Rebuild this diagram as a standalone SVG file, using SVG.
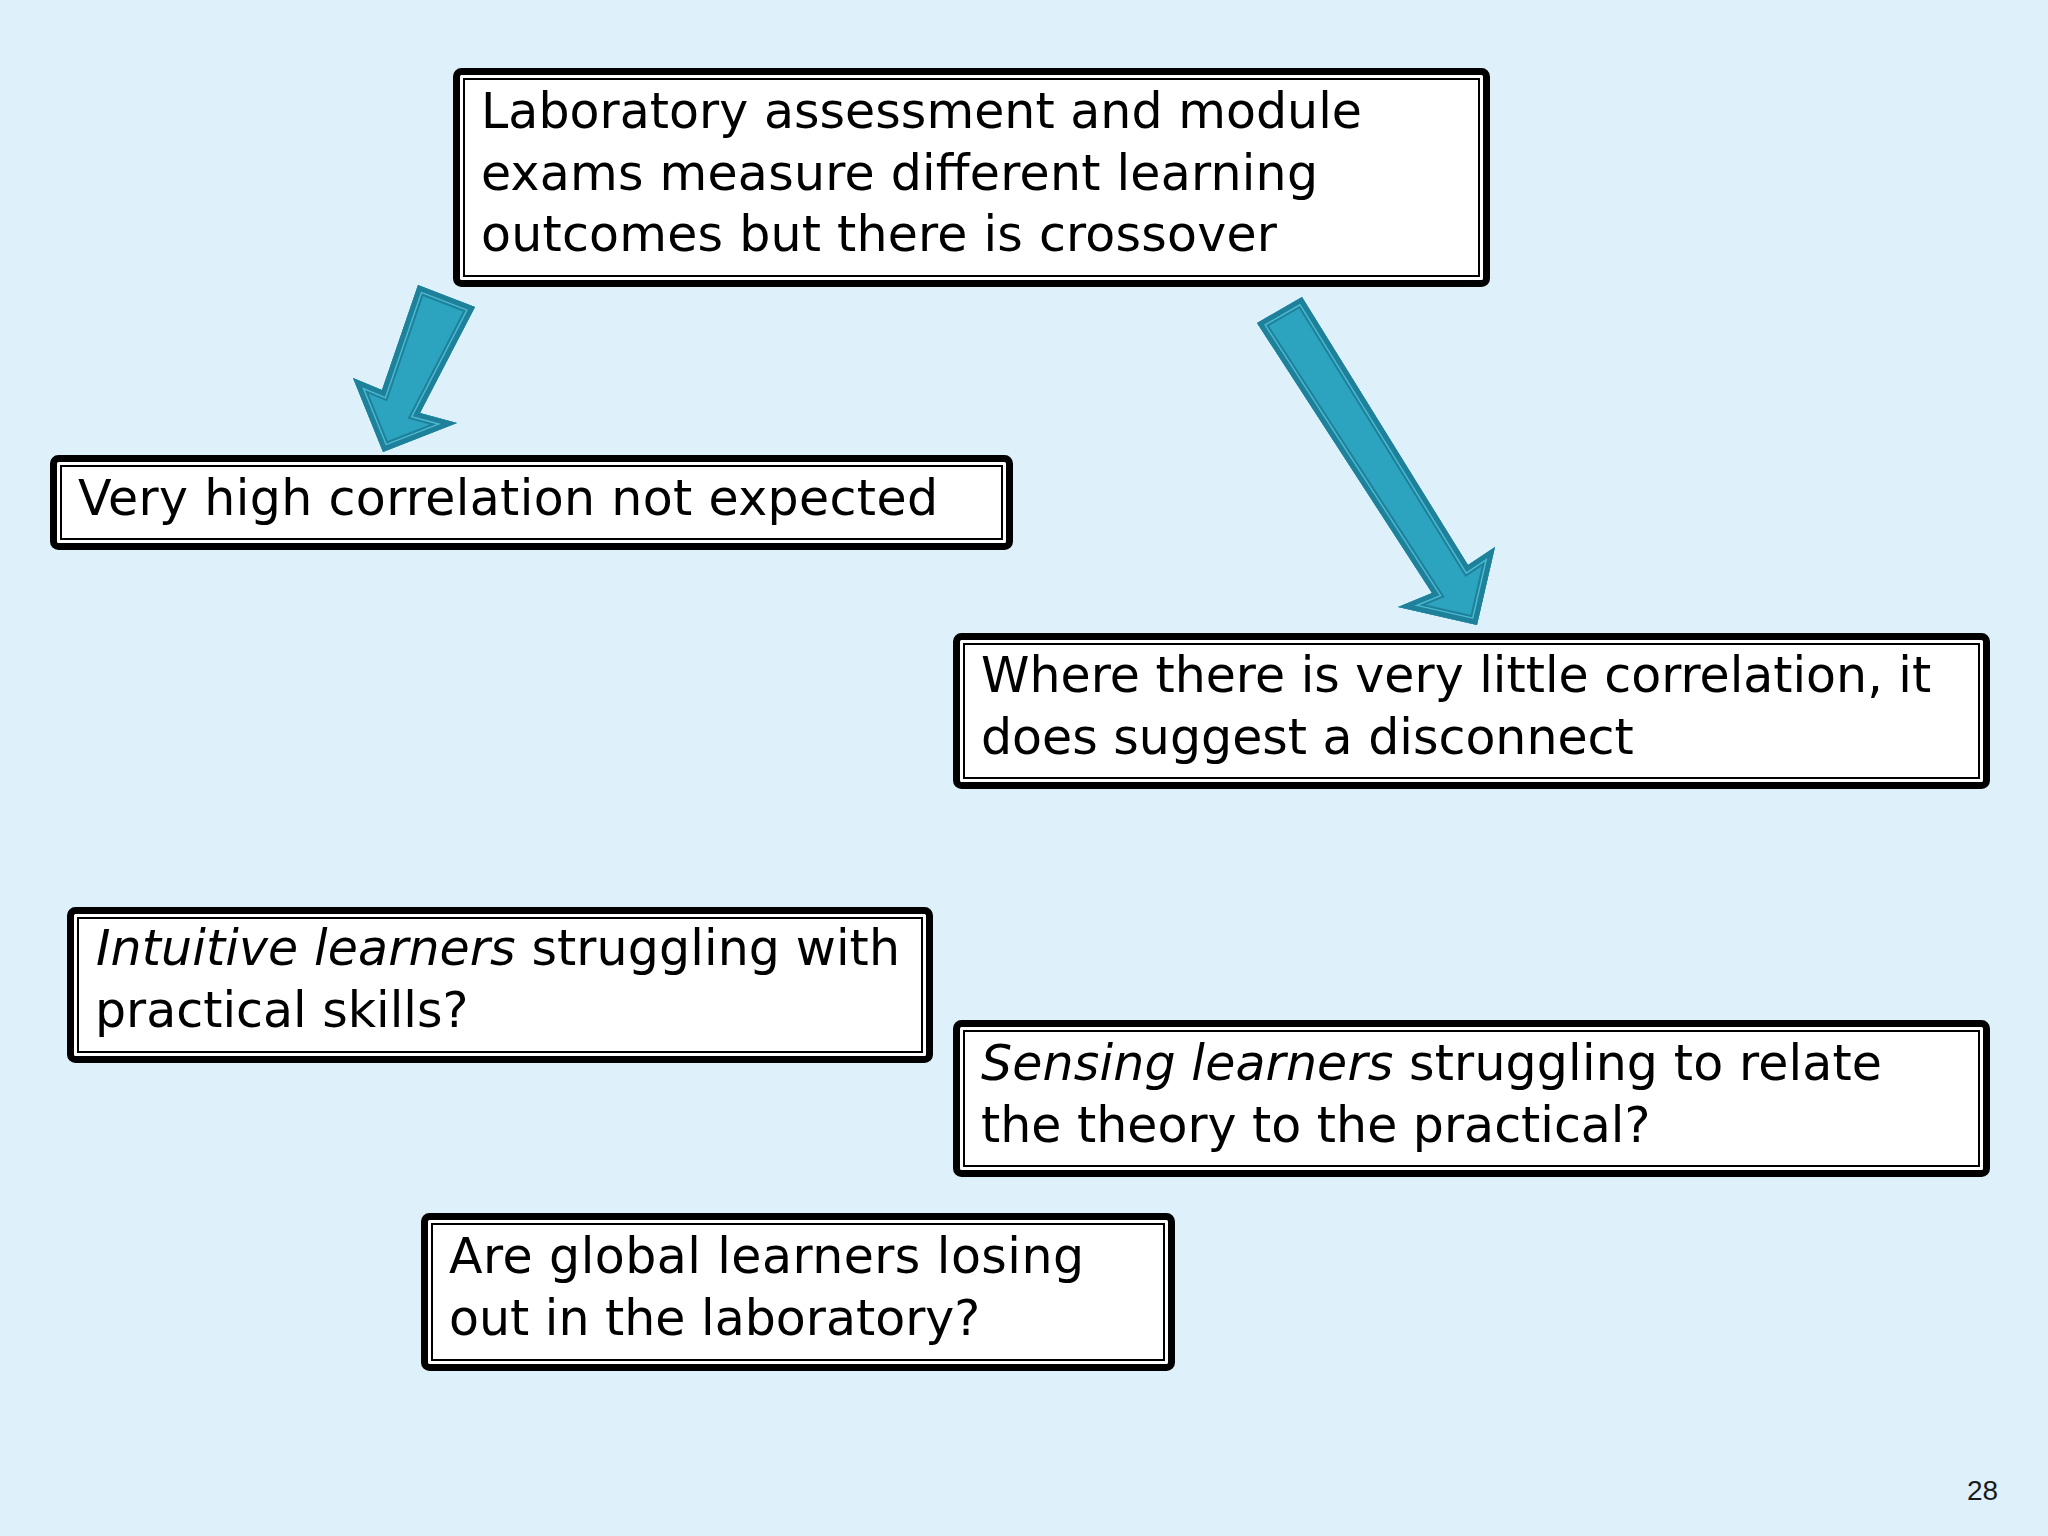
<svg xmlns="http://www.w3.org/2000/svg" width="2048" height="1536" viewBox="0 0 2048 1536">
<style>
.outer{fill:#ffffff;stroke:#000000;stroke-width:7}
.inner{fill:none;stroke:#000000;stroke-width:2}
.t{font-family:"DejaVu Sans","Liberation Sans",sans-serif;font-size:49px;fill:#000000}
.i{font-style:italic}
.pg{font-family:"Liberation Sans",Arial,sans-serif;font-size:28px;fill:#1a1a1a}
.af{fill:#2ca3bf}
.a1{fill:none;stroke:#1e8099;stroke-width:17}
.a2{fill:none;stroke:#49b8d2;stroke-width:13}
.a3{fill:none;stroke:#1e8099;stroke-width:10}
</style>
<defs>
<polygon id="arrL" points="418,285 475,307 420,413 457,423 383,452 353,378 382,390"/>
<polygon id="arrR" points="1257,323 1302,297 1468,565 1495,547 1477,625 1398,607 1432,593"/>
<clipPath id="cL"><use href="#arrL"/></clipPath>
<clipPath id="cR"><use href="#arrR"/></clipPath>
</defs>
<rect width="2048" height="1536" fill="#def1fa"/>
<g id="connectors">
<g id="arrow-left" clip-path="url(#cL)">
<use href="#arrL" class="af"/>
<use href="#arrL" class="a1"/>
<use href="#arrL" class="a2"/>
<use href="#arrL" class="a3"/>
</g>
<g id="arrow-right" clip-path="url(#cR)">
<use href="#arrR" class="af"/>
<use href="#arrR" class="a1"/>
<use href="#arrR" class="a2"/>
<use href="#arrR" class="a3"/>
</g>
</g>
<g id="node-top">
<rect class="outer" x="456.5" y="71.5" width="1030" height="212" rx="5"/>
<rect class="inner" x="464" y="79" width="1015" height="197"/>
<text class="t" x="481" y="128" textLength="881">Laboratory assessment and module</text>
<text class="t" x="481" y="190" textLength="837">exams measure different learning</text>
<text class="t" x="481" y="251" textLength="796">outcomes but there is crossover</text>
</g>
<g id="node-high">
<rect class="outer" x="53.5" y="458.5" width="956" height="88" rx="5"/>
<rect class="inner" x="61" y="466" width="941" height="73"/>
<text class="t" x="78" y="515" textLength="860">Very high correlation not expected</text>
</g>
<g id="node-little">
<rect class="outer" x="956.5" y="636.5" width="1030" height="149" rx="5"/>
<rect class="inner" x="964" y="644" width="1015" height="134"/>
<text class="t" x="981" y="692">Where there is very little correlation, it</text>
<text class="t" x="981" y="754">does suggest a disconnect</text>
</g>
<g id="node-intuitive">
<rect class="outer" x="70.5" y="910.5" width="859" height="149" rx="5"/>
<rect class="inner" x="78" y="918" width="844" height="134"/>
<text class="t" x="96" y="965" textLength="804"><tspan class="i">Intuitive learners</tspan> struggling with</text>
<text class="t" x="95" y="1027">practical skills?</text>
</g>
<g id="node-sensing">
<rect class="outer" x="956.5" y="1023.5" width="1030" height="150" rx="5"/>
<rect class="inner" x="964" y="1031" width="1015" height="135"/>
<text class="t" x="981" y="1080" textLength="901"><tspan class="i">Sensing learners</tspan> struggling to relate</text>
<text class="t" x="981" y="1142">the theory to the practical?</text>
</g>
<g id="node-global">
<rect class="outer" x="424.5" y="1216.5" width="747" height="151" rx="5"/>
<rect class="inner" x="432" y="1224" width="732" height="136"/>
<text class="t" x="449" y="1273" textLength="635">Are global learners losing</text>
<text class="t" x="449" y="1335">out in the laboratory?</text>
</g>
<text class="pg" x="1967" y="1500">28</text>
</svg>
